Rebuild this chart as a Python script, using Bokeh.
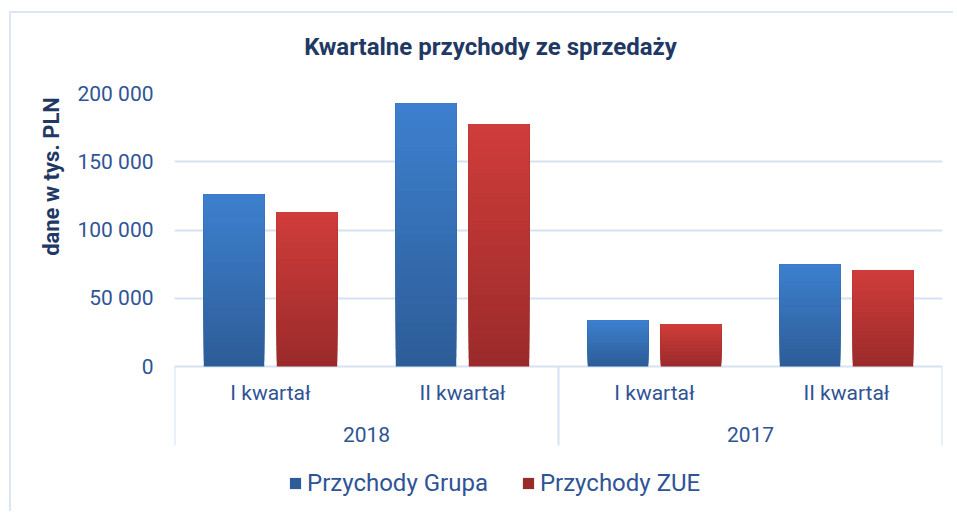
import math
from bokeh.plotting import figure
from bokeh.models import (FactorRange, Range1d, FixedTicker, Legend, LegendItem,
                          ColumnDataSource)
from bokeh.transform import dodge
from bokeh.core.properties import value
from bokeh.embed import file_html
from bokeh.resources import INLINE

# ---------------- data ----------------
title_text = "Kwartalne przychody ze sprzedaży"
y_title = "dane w tys. PLN"
years = ["2018", "2017"]
quarters = ["I kwartał", "II kwartał"]
series_names = ["Przychody Grupa", "Przychody ZUE"]
grupa = [126000, 192700, 33700, 74700]
zue = [112800, 177300, 30800, 70300]
y_ticks = [0, 50000, 100000, 150000, 200000]
y_tick_labels = ["0", "50 000", "100 000", "150 000", "200 000"]

# ---------------- style ----------------
TXT = "#2F5496"
DARK = "#1F3864"
GRID = "#D6E1F2"
FONT = "Roboto"
BLUE_TOP, BLUE_BOT = "#3D80CF", "#2D5C97"
RED_TOP, RED_BOT = "#D03D3A", "#9A2A2A"
N_SLICES = 30
Y_MAX = 200000
PX = Y_MAX / 273.0          # data units per screen pixel on the y scale
FIG_W, FIG_H = 944, 500
TOP_BORDER = 80
FRAME_H = FIG_H - TOP_BORDER
Y_MIN = -(FRAME_H - 273) * PX   # room below zero for the category labels and legend

factors = [(y, q) for y in years for q in quarters]


def _rgb(h):
    h = h.lstrip("#")
    return [int(h[i:i + 2], 16) for i in (0, 2, 4)]


def _mix(c0, c1, t):
    a, b = _rgb(c0), _rgb(c1)
    return "#" + "".join("%02x" % round(a[i] + (b[i] - a[i]) * t) for i in range(3))


def gradient_source(values, top_c, bot_c):
    # each bar is painted as overlapping layers, each one from a higher
    # fraction of the bar up to its top, giving a vertical colour gradient
    xs, bottoms, tops, colors = [], [], [], []
    for k in range(N_SLICES):
        for f, v in zip(factors, values):
            xs.append(f)
            bottoms.append(v * k / N_SLICES)
            tops.append(v)
            colors.append(_mix(bot_c, top_c, (k + 0.5) / N_SLICES))
    return ColumnDataSource(dict(x=xs, bottom=bottoms, top=tops, color=colors))


xr = FactorRange(*factors, range_padding=0, factor_padding=0, group_padding=0)

p = figure(width=FIG_W, height=FIG_H, x_range=xr, y_range=Range1d(Y_MIN, Y_MAX),
           output_backend="svg", toolbar_location=None,
           min_border_left=163, min_border_right=13, min_border_top=TOP_BORDER,
           min_border_bottom=0,
           styles={"margin-left": "9px", "margin-top": "11px",
                   "border-left": "2px solid #DCE5F3",
                   "border-top": "2px solid #DCE5F3"})
p.outline_line_color = None
p.background_fill_color = "white"
p.border_fill_color = "white"
p.xaxis.visible = False
p.xgrid.grid_line_color = None

# bars
bar_w = 0.315
src_g = gradient_source(grupa, BLUE_TOP, BLUE_BOT)
src_z = gradient_source(zue, RED_TOP, RED_BOT)
r_g = p.vbar(x=dodge("x", -0.19, range=xr), bottom="bottom", top="top", width=bar_w,
             source=src_g, fill_color="color", line_color=None)
r_z = p.vbar(x=dodge("x", 0.19, range=xr), bottom="bottom", top="top", width=bar_w,
             source=src_z, fill_color="color", line_color=None)

# y axis
p.yaxis.ticker = FixedTicker(ticks=y_ticks)
p.ygrid.ticker = FixedTicker(ticks=y_ticks)
p.yaxis.major_label_overrides = {t: l for t, l in zip(y_ticks, y_tick_labels)}
p.yaxis.axis_line_color = None
p.yaxis.major_tick_line_color = None
p.yaxis.minor_tick_line_color = None
p.yaxis.major_tick_out = 0
p.yaxis.minor_tick_out = 0
p.yaxis.major_label_standoff = 21
p.yaxis.major_label_text_font = FONT
p.yaxis.major_label_text_font_size = "21px"
p.yaxis.major_label_text_color = TXT
p.ygrid.grid_line_color = GRID
p.ygrid.grid_line_width = 2
p.ygrid.level = "underlay"

# category axis: box lines and two levels of labels below zero
box_depth = -79 * PX
sep_x = [(years[0], quarters[0], -0.5), (years[1], quarters[0], -0.5),
         (years[-1], quarters[-1], 0.5)]
p.segment(x0=sep_x, y0=[0] * 3, x1=sep_x, y1=[box_depth] * 3,
          line_color=GRID, line_width=2)
p.text(x=factors, y=[-26 * PX] * len(factors), text=[q for _, q in factors],
       text_align="center", text_baseline="middle", text_font=value(FONT),
       text_font_size="21px", text_color=TXT)
p.text(x=years, y=[-68 * PX] * len(years), text=years,
       text_align="center", text_baseline="middle", text_font=value(FONT),
       text_font_size="21px", text_color=TXT)

# chart title and y axis title (overlay texts, outside the frame)
p.text(x=[1.646], y=[Y_MAX + 47 * PX], text=[title_text], level="overlay",
       text_align="center", text_baseline="middle", text_font=value(FONT),
       text_font_style="bold", text_font_size="24px", text_color=DARK)
p.text(x=[-0.64], y=[190 * PX], text=[y_title], angle=math.pi / 2, level="overlay",
       text_align="center", text_baseline="middle", text_font=value(FONT),
       text_font_style="bold", text_font_size="22px", text_color=DARK)

# legend
legend = Legend(items=[LegendItem(label=series_names[0], renderers=[r_g]),
                       LegendItem(label=series_names[1], renderers=[r_z])],
                orientation="horizontal", location=(114, 16))
legend.border_line_color = None
legend.background_fill_alpha = 0
legend.label_text_font = FONT
legend.label_text_font_size = "24px"
legend.label_text_color = TXT
legend.glyph_width = 14
legend.glyph_height = 14
legend.spacing = 33
legend.label_standoff = 5
legend.padding = 0
legend.margin = 0
p.add_layout(legend, "center")

open("out.html", "w").write(file_html(p, INLINE))
